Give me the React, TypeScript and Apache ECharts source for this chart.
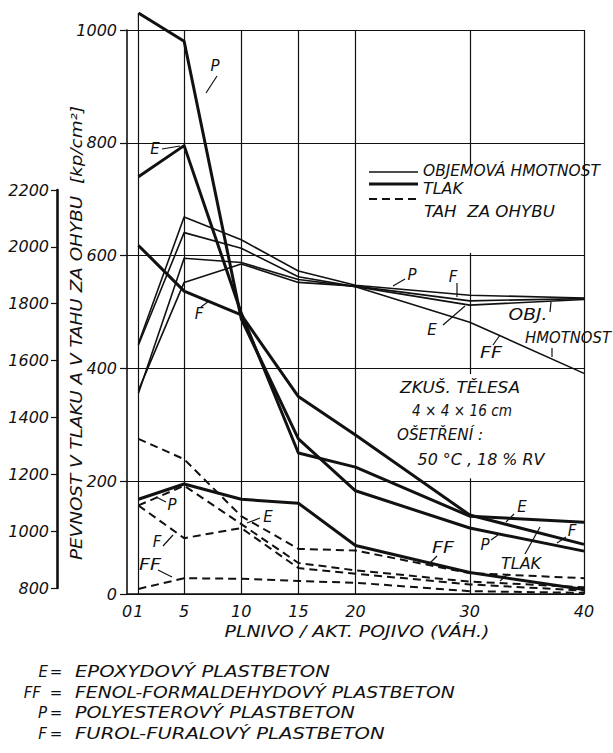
import React, { useEffect, useRef } from "react";
import * as echarts from "echarts";

// ---------------- DATA ----------------
// filler / active binder ratio (by weight)
const fillRatio = [1, 5, 10, 15, 20, 30, 40];
const xTickLabels = [0, 1, 5, 10, 15, 20, 30, 40];
// vertical grid lines (x values) and broken segments of the x = 30 line (y ranges)
const gridX = [1, 5, 10, 15, 20, 40];
const gridX30Segments = [
  [0, 205],
  [390, 605],
  [760, 1000],
];

// TLAK – compressive strength [kp/cm2]
const tlakE = [740, 795, 498, 250, 225, 138, 127];
const tlakFF = [168, 195, 168, 161, 86, 38, 8];
const tlakP = [1030, 980, 488, 275, 183, 117, 76];
const tlakF = [618, 537, 495, 350, 282, 140, 88];

// TAH ZA OHYBU – flexural tensile strength [kp/cm2]
const tahE = [275, 239, 138, 80, 77, 37, 28];
const tahFF = [9, 28, 27, 23, 20, 5, 2];
const tahP = [157, 192, 124, 55, 42, 22, 12];
const tahF = [157, 99, 117, 46, 36, 17, 6];

// OBJEMOVÁ HMOTNOST – bulk density [kg/m3] (left outer axis)
const objE = [1485, 1960, 1945, 1885, 1860, 1795, 1815];
const objFF = [1655, 2050, 1995, 1895, 1860, 1735, 1555];
const objP = [1660, 2105, 2025, 1915, 1865, 1830, 1820];
const objF = [1495, 1875, 1940, 1875, 1862, 1810, 1818];

// ---------------- STYLE / LAYOUT ----------------
const INK = "#111";
const FONT = '"DejaVu Sans", "Liberation Sans", sans-serif';

type Note = { t: string; x: number; y: number; w?: number; s?: number; a?: "left" | "center" | "right"; r?: number };
const notes: Note[] = [
  { t: "P", x: 215, y: 66 },
  { t: "E", x: 155, y: 149 },
  { t: "F", x: 199, y: 314 },
  { t: "P", x: 412, y: 275 },
  { t: "F", x: 453, y: 277 },
  { t: "E", x: 432, y: 330 },
  { t: "OBJ.", x: 528, y: 315, w: 39 },
  { t: "HMOTNOST", x: 568, y: 338, w: 86 },
  { t: "FF", x: 491, y: 353, w: 22 },
  { t: "ZKUŠ. TĚLESA", x: 460, y: 388, w: 120 },
  { t: "4 × 4 × 16 cm", x: 462, y: 411, w: 100 },
  { t: "OŠETŘENÍ :", x: 440, y: 435, w: 86 },
  { t: "50 °C , 18 % RV", x: 481, y: 460, w: 127 },
  { t: "E", x: 522, y: 507 },
  { t: "F", x: 572, y: 531 },
  { t: "P", x: 485, y: 545 },
  { t: "TLAK", x: 521, y: 564, w: 40 },
  { t: "FF", x: 443, y: 548, w: 22 },
  { t: "P", x: 172, y: 505 },
  { t: "F", x: 157, y: 542 },
  { t: "E", x: 268, y: 517 },
  { t: "FF", x: 150, y: 565, w: 22 },
  // legend
  { t: "OBJEMOVÁ HMOTNOST", x: 423, y: 171, w: 177, a: "left" },
  { t: "TLAK", x: 423, y: 189, w: 40, a: "left" },
  { t: "TAH  ZA OHYBU", x: 424, y: 212, w: 131, a: "left" },
  // axis titles
  { t: "PLNIVO / AKT. POJIVO (VÁH.)", x: 357, y: 632, w: 265 },
  { t: "PEVNOST V TLAKU A V TAHU ZA OHYBU  [kp/cm²]", x: 77, y: 333, w: 455, r: 90 },
  // key
  { t: "E", x: 48, y: 672, a: "right" },
  { t: "=", x: 56, y: 672 },
  { t: "EPOXYDOVÝ PLASTBETON", x: 75, y: 672, w: 255, a: "left" },
  { t: "FF", x: 41, y: 693, a: "right" },
  { t: "=", x: 56, y: 693 },
  { t: "FENOL-FORMALDEHYDOVÝ PLASTBETON", x: 75, y: 693, w: 380, a: "left" },
  { t: "P", x: 47, y: 713, a: "right" },
  { t: "=", x: 56, y: 713 },
  { t: "POLYESTEROVÝ PLASTBETON", x: 75, y: 713, w: 280, a: "left" },
  { t: "F", x: 47, y: 734, a: "right" },
  { t: "=", x: 56, y: 734 },
  { t: "FUROL-FURALOVÝ PLASTBETON", x: 75, y: 734, w: 310, a: "left" },
];

const leaders: number[][] = [
  [217, 76, 206, 93],
  [162, 149, 180, 146],
  [201, 307, 209, 301],
  [405, 279, 393, 286],
  [457, 283, 457, 297],
  [443, 325, 465, 306],
  [550, 312, 551, 302],
  [552, 348, 552, 357],
  [493, 345, 500, 335],
  [514, 514, 506, 522],
  [566, 537, 557, 543],
  [491, 540, 498, 535],
  [525, 554, 540, 527],
  [508, 574, 500, 581],
  [437, 556, 429, 564],
  [166, 502, 156, 497],
  [163, 546, 173, 535],
  [260, 518, 247, 523],
  [158, 570, 172, 577],
];

const legendSamples = [
  { y: 172, w: 1.6, dash: null as number[] | null },
  { y: 184, w: 3, dash: null as number[] | null },
  { y: 199, w: 2, dash: [8, 5] },
];

let measureCtx: CanvasRenderingContext2D | null = null;
function textWidth(t: string, size: number) {
  if (!measureCtx) measureCtx = document.createElement("canvas").getContext("2d");
  if (!measureCtx) return t.length * size * 0.65;
  measureCtx.font = `italic ${size}px ${FONT}`;
  return measureCtx.measureText(t).width;
}

function lineSeries(arr: number[], kind: "tlak" | "tah" | "obj", extra: any = {}) {
  const lineStyle =
    kind === "tlak"
      ? { color: INK, width: 3, join: "round" }
      : kind === "tah"
      ? { color: INK, width: 2, type: [8, 5] }
      : { color: INK, width: 1.6, join: "round" };
  const onDensity = kind === "obj";
  return {
    type: "line",
    xAxisIndex: onDensity ? 1 : 0,
    yAxisIndex: onDensity ? 1 : 0,
    data: fillRatio.map((x, i) => [x, arr[i]]),
    symbol: "none",
    showSymbol: false,
    silent: true,
    clip: false,
    lineStyle,
    itemStyle: { color: INK },
    emphasis: { disabled: true },
    z: kind === "tlak" ? 5 : 4,
    ...extra,
  };
}

export default function App() {
  const ref = useRef<HTMLDivElement>(null);
  useEffect(() => {
    const el = ref.current;
    if (!el) return;
    const chart = echarts.init(el, null, { renderer: "svg" });

    const axisFont = { color: INK, fontSize: 16, fontStyle: "italic", fontFamily: FONT };
    const plain = (v: number) => String(v);

    const buildOption = (extraGraphic: any[]) => {
      const texts = notes.map((n) => {
        const s = n.s ?? 15;
        const sx = n.w ? n.w / textWidth(n.t, s) : 1;
        const a = n.a ?? "center";
        return {
          type: "text",
          x: n.x,
          y: n.y,
          rotation: n.r ? (n.r * Math.PI) / 180 : 0,
          scaleX: sx,
          silent: true,
          z: 10,
          style: {
            text: n.t,
            fill: INK,
            fontSize: s,
            fontStyle: "italic",
            fontFamily: FONT,
            align: a,
            verticalAlign: "middle",
            textAlign: a,
            textVerticalAlign: "middle",
          },
        };
      });
      const leaderEls = leaders.map((l) => ({
        type: "line",
        silent: true,
        z: 10,
        shape: { x1: l[0], y1: l[1], x2: l[2], y2: l[3] },
        style: { stroke: INK, lineWidth: 1.2 },
      }));
      const legendEls = legendSamples.map((s) => ({
        type: "line",
        silent: true,
        z: 10,
        shape: { x1: 369, y1: s.y, x2: 418, y2: s.y },
        style: { stroke: INK, lineWidth: s.w, lineDash: s.dash || undefined },
      }));

      return {
        animation: false,
        backgroundColor: "#fff",
        grid: [
          { left: 127, top: 30, width: 457, height: 564, show: false, outerBoundsMode: "none", containLabel: false },
          { left: 127, top: 190, width: 457, height: 398, show: false, outerBoundsMode: "none", containLabel: false },
        ],
        xAxis: [
          {
            type: "value",
            gridIndex: 0,
            min: 0,
            max: 40,
            interval: 1,
            axisLine: { show: true, onZero: false, lineStyle: { color: INK, width: 1.6 } },
            axisTick: { show: false },
            splitLine: { show: false },
            axisLabel: {
              ...axisFont,
              margin: 9,
              formatter: (v: number) => (xTickLabels.includes(v) ? String(v) : ""),
            },
          },
          { type: "value", gridIndex: 1, min: 0, max: 40, show: false },
        ],
        yAxis: [
          {
            type: "value",
            gridIndex: 0,
            min: 0,
            max: 1000,
            interval: 200,
            axisLine: { show: true, onZero: false, lineStyle: { color: INK, width: 1.6 } },
            axisTick: { show: true, inside: false, length: 7, lineStyle: { color: INK, width: 1.2 } },
            splitLine: { show: true, lineStyle: { color: INK, width: 1.2 } },
            axisLabel: { ...axisFont, margin: 10, formatter: plain },
          },
          {
            type: "value",
            gridIndex: 1,
            min: 800,
            max: 2200,
            interval: 200,
            position: "left",
            offset: 70,
            axisLine: { show: true, onZero: false, lineStyle: { color: INK, width: 2.6 } },
            axisTick: { show: true, inside: false, length: 6, lineStyle: { color: INK, width: 1.2 } },
            splitLine: { show: false },
            axisLabel: { ...axisFont, margin: 8, formatter: plain },
          },
        ],
        series: [
          lineSeries(objE, "obj"),
          lineSeries(objFF, "obj"),
          lineSeries(objP, "obj"),
          lineSeries(objF, "obj"),
          lineSeries(tahE, "tah"),
          lineSeries(tahFF, "tah"),
          lineSeries(tahP, "tah"),
          lineSeries(tahF, "tah"),
          lineSeries(tlakE, "tlak"),
          lineSeries(tlakP, "tlak"),
          lineSeries(tlakF, "tlak"),
          lineSeries(tlakFF, "tlak", {
            markLine: {
              silent: true,
              symbol: ["none", "none"],
              label: { show: false },
              emphasis: { disabled: true },
              lineStyle: { color: INK, width: 1.2, type: "solid" },
              data: [
                ...gridX.map((v) => ({ xAxis: v })),
                ...gridX30Segments.map(([a, b]) => [{ coord: [30, a] }, { coord: [30, b] }]),
              ],
            },
          }),
        ],
        graphic: { elements: [...legendEls, ...leaderEls, ...texts, ...extraGraphic] },
      };
    };

    chart.setOption(buildOption([]) as any);
    // extension of the x = 1 grid line up to the first point of the P compressive curve
    const pA = chart.convertToPixel({ gridIndex: 0 } as any, [1, 1000]) as number[];
    const pB = chart.convertToPixel({ gridIndex: 0 } as any, [1, tlakP[0]]) as number[];
    const ext =
      pA && pB
        ? [
            {
              type: "line",
              silent: true,
              z: 3,
              shape: { x1: pA[0], y1: pA[1], x2: pB[0], y2: pB[1] },
              style: { stroke: INK, lineWidth: 1.2 },
            },
          ]
        : [];
    chart.setOption(buildOption(ext) as any, true);

    return () => chart.dispose();
  }, []);

  return (
    <div
      ref={ref}
      style={{ position: "fixed", left: 0, top: 0, width: 613, height: 753, background: "#fff" }}
    />
  );
}
